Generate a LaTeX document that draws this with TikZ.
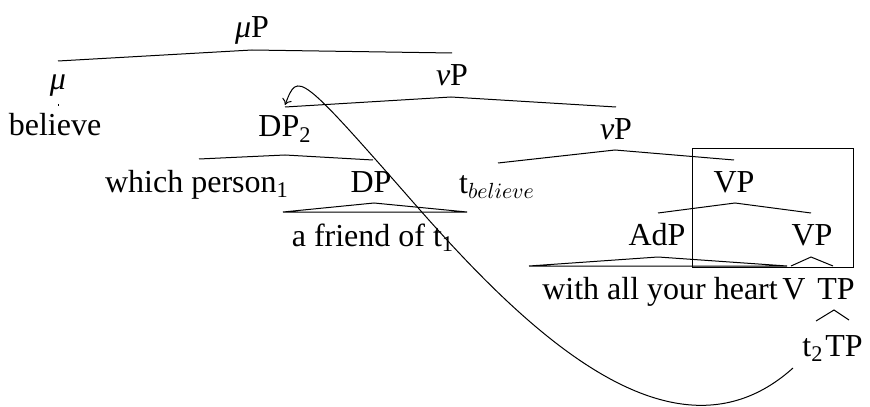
\documentclass[tikz,border=0pt]{standalone}
\usepackage{fontspec}
\setmainfont{Liberation Serif}
\usetikzlibrary{arrows.meta}
\begin{document}
\begin{tikzpicture}[x=0.5pt,y=-0.5pt,
  lbl/.style={anchor=base,inner sep=0pt,font=\fontsize{16}{19}\selectfont},
  br/.style={line width=0.5pt},
  movearrow/.style={line width=0.5pt,-{To[length=3pt,width=5pt]}}]
\useasboundingbox (0,0) rectangle (870,406);
% labels
\node[lbl] (muP) at (252,38) {\textit{μ}P};
\node[lbl] (mu) at (58,90) {\textit{μ}};
\node[lbl] (believe) at (55,136) {believe};
\node[lbl] (vP) at (452,86) {\textit{ν}P};
\node[lbl] (DPtwo) at (285,137) {DP\textsubscript{2}};
\node[lbl] (vPb) at (616,140) {\textit{ν}P};
\node[lbl] (which) at (197,192) {which person\textsubscript{1}};
\node[lbl] (DP) at (371,192) {DP};
\node[lbl] (tbel) at (497,193) {t$_{believe}$};
\node[lbl] (VPa) at (734,192) {VP};
\node[lbl] (friend) at (373,246) {a friend of t\textsubscript{1}};
\node[lbl] (AdP) at (657,245) {AdP};
\node[lbl] (VPb) at (812,245) {VP};
\node[lbl] (heart) at (660,299) {with all your heart};
\node[lbl] (V) at (794,299) {V};
\node[lbl] (TPa) at (836,299) {TP};
\node[lbl] (ttwo) at (813,356) {t\textsubscript{2}};
\node[lbl] (TPb) at (844,356) {TP};
% branch points
\coordinate (muPa) at (252,50);
\coordinate (muPl) at (58,61);
\coordinate (muPr) at (452,53);
\coordinate (mud1) at (58,104);
\coordinate (mud2) at (58,106);
\coordinate (vPa) at (451,97);
\coordinate (vPl) at (285,107);
\coordinate (vPr) at (616,107);
\coordinate (vPba) at (615,150);
\coordinate (vPbl) at (498,163);
\coordinate (vPbr) at (734,160);
\coordinate (DPta) at (285,155);
\coordinate (DPtl) at (199,159);
\coordinate (DPtr) at (373,160);
\coordinate (DPa) at (374,203);
\coordinate (DPl) at (283,212);
\coordinate (DPr) at (467,212);
\coordinate (VPaa) at (735,203);
\coordinate (VPal) at (658,213);
\coordinate (VPar) at (811,213);
\coordinate (AdPa) at (658,257);
\coordinate (AdPl) at (529,266);
\coordinate (AdPr) at (787,266);
\coordinate (VPba) at (811,257);
\coordinate (VPbl) at (791,266);
\coordinate (VPbr) at (833,266);
\coordinate (TPaa) at (834,310);
\coordinate (TPal) at (816,321);
\coordinate (TPar) at (849,320);
\coordinate (mvstart) at (793,368);
\coordinate (mvmid) at (420,210);
\coordinate (mvend) at (285,105);
% branches
\draw[br] (muPl) -- (muPa) -- (muPr);
\draw[br] (mud1) -- (mud2);
\draw[br] (vPl) -- (vPa) -- (vPr);
\draw[br] (vPbl) -- (vPba) -- (vPbr);
\draw[br] (DPtl) -- (DPta) -- (DPtr);
\draw[br] (DPl) -- (DPa) -- (DPr) -- cycle;
\draw[br] (VPal) -- (VPaa) -- (VPar);
\draw[br] (AdPl) -- (AdPa) -- (AdPr) -- cycle;
\draw[br] (VPbl) -- (VPba) -- (VPbr);
\draw[br] (TPal) -- (TPaa) -- (TPar);
% box
\draw[br] (692,149) rectangle (853,267);
% movement
\draw[movearrow] (mvstart) .. controls (674,475) and (526,330) .. (mvmid)
  .. controls (298,71) and (298,71) .. (mvend);
\end{tikzpicture}
\end{document}
